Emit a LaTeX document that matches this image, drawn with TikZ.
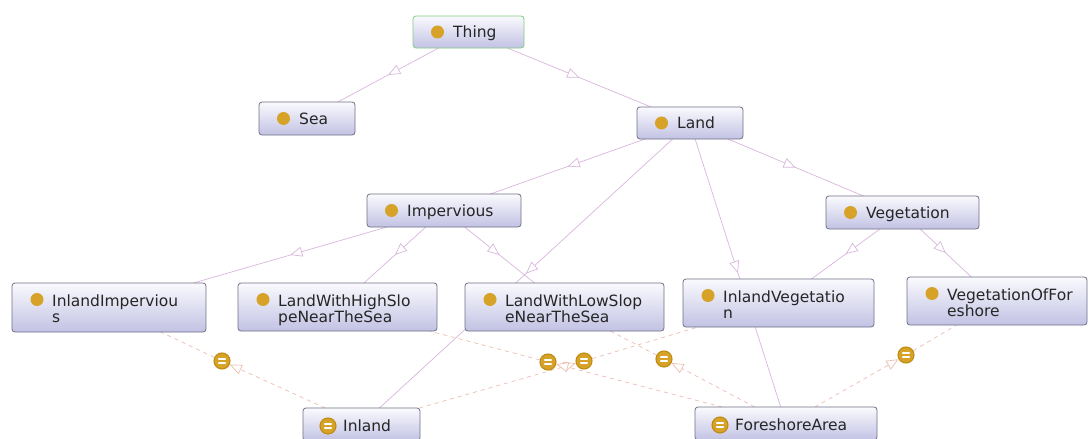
\documentclass[tikz,border=0pt]{standalone}
\usepackage{fontspec}
\newfontfamily\lblfont{DejaVu Sans}
\usetikzlibrary{arrows.meta,decorations.markings,backgrounds}

\definecolor{boxline}{RGB}{112,112,134}
\definecolor{boxtop}{RGB}{250,250,254}
\definecolor{boxbot}{RGB}{194,194,228}
\definecolor{thingline}{RGB}{128,204,128}
\definecolor{gold}{RGB}{214,163,40}
\definecolor{golddark}{RGB}{192,140,22}
\definecolor{subcol}{RGB}{218,182,222}
\definecolor{eqcol}{RGB}{236,190,176}

\tikzset{
  box/.style={draw=boxline, line width=0.8pt, rounded corners=3pt,
    top color=boxtop, bottom color=boxbot, inner sep=0pt, outer sep=0pt},
  thingbox/.style={draw=thingline},
  clsdot/.style={circle, fill=gold, inner sep=0pt, minimum size=13pt},
  eqdot/.style={circle, fill=gold, draw=golddark, line width=1.1pt,
    inner sep=0pt, minimum size=16pt,
    path picture={
      \draw[white, line width=1.7pt, line cap=round]
        ([shift={(-3.2pt,1.9pt)}]path picture bounding box.center) -- ++(6.4pt,0pt)
        ([shift={(-3.2pt,-1.9pt)}]path picture bounding box.center) -- ++(6.4pt,0pt);
    }},
  lbl/.style={font=\lblfont\fontsize{15.5}{16}\selectfont, anchor=base west,
    inner sep=0pt, text=black!85},
  opentip/.tip={Triangle[fill=white, length=12pt, width=10pt]},
  subedge/.style={color=subcol, line width=0.7pt, postaction={decorate},
    decoration={markings, mark=at position 0.5 with {\arrow{opentip}}}},
  eqedge/.style={color=eqcol, line width=0.7pt, dash pattern=on 4pt off 4pt, -opentip},
  eqlink/.style={color=eqcol, line width=0.7pt, dash pattern=on 4pt off 4pt},
}

% class box with one text line: name, x1, y1, x2, y2, text, extra style
\newcommand\oneclass[7]{%
  \node[box, #7, minimum width={(#4-#2)*1pt}, minimum height={(#5-#3)*1pt}]
    (#1) at ({(#2+#4)/2},{(#3+#5)/2}) {};
  \node[clsdot] (#1-dot) at ({#2+24.5},{(#3+#5)/2}) {};
  \node[lbl] (#1-txt) at ({#2+40},{(#3+#5)/2+5.5}) {#6};
}
% class box with two text lines: name, x1, y1, x2, y2, line one, line two
\newcommand\twoclass[7]{%
  \node[box, minimum width={(#4-#2)*1pt}, minimum height={(#5-#3)*1pt}]
    (#1) at ({(#2+#4)/2},{(#3+#5)/2}) {};
  \node[clsdot] (#1-dot) at ({#2+25},{#3+16.5}) {};
  \node[lbl] (#1-txt) at ({#2+40},{#3+23}) {#6};
  \node[lbl] (#1-txt2) at ({#2+40},{#3+39}) {#7};
}
% defined class box with the equivalence badge: name, x1, y1, x2, y2, text
\newcommand\defclass[6]{%
  \node[box, minimum width={(#4-#2)*1pt}, minimum height={(#5-#3)*1pt}]
    (#1) at ({(#2+#4)/2},{(#3+#5)/2}) {};
  \node[eqdot] (#1-dot) at ({#2+25},{#3+18}) {};
  \node[lbl] (#1-txt) at ({#2+40},{#3+23}) {#6};
}

\begin{document}
\begin{tikzpicture}[x=1pt, y=-1pt]
\useasboundingbox (0,0) rectangle (1088,439);
\clip (0,0) rectangle (1088,439);

% class hierarchy
\oneclass{thing}{413}{16}{524}{48}{Thing}{thingbox}
\oneclass{sea}{259}{102}{355}{135}{Sea}{}
\oneclass{land}{637}{107}{743}{139}{Land}{}
\oneclass{imp}{367}{194}{521}{227}{Impervious}{}
\oneclass{veg}{826}{196}{979}{229}{Vegetation}{}
\twoclass{inlimp}{12}{283}{206}{332}{InlandImperviou}{s}
\twoclass{high}{238}{283}{437}{331}{LandWithHighSlo}{peNearTheSea}
\twoclass{low}{465}{283}{664}{331}{LandWithLowSlop}{eNearTheSea}
\twoclass{inlveg}{683}{279}{874}{327}{InlandVegetatio}{n}
\twoclass{vegfor}{907}{277}{1087}{325}{VegetationOfFor}{eshore}
\defclass{inland}{303}{408}{420}{441}{Inland}
\defclass{fore}{695}{407}{877}{440}{ForeshoreArea}

% equivalence badges
\node[eqdot] (e1) at (222,361) {};
\node[eqdot] (e2) at (548,362) {};
\node[eqdot] (e3) at (584,361) {};
\node[eqdot] (e4) at (664,359) {};
\node[eqdot] (e5) at (906,355) {};

\begin{scope}[on background layer]
  \fill[white] (0,0) rectangle (1088,439);
  % subclass links
  \draw[subedge] (thing) -- (sea);
  \draw[subedge] (thing) -- (land);
  \draw[subedge] (land) -- (imp);
  \draw[subedge] (land) -- (veg);
  \draw[subedge] (land) -- (inland);
  \draw[subedge] (land) -- (fore);
  \draw[subedge] (imp) -- (inlimp);
  \draw[subedge] (imp) -- (high);
  \draw[subedge] (imp) -- (low);
  \draw[subedge] (veg) -- (inlveg);
  \draw[subedge] (veg) -- (vegfor);
  % equivalence links
  \draw[eqedge] (inland) -- (e1);
  \draw[eqlink] (e1) -- (inlimp);
  \draw[eqedge] (inland) -- (e3);
  \draw[eqlink] (e3) -- (inlveg);
  \draw[eqedge] (fore) -- (e2);
  \draw[eqlink] (e2) -- (high);
  \draw[eqedge] (fore) -- (e4);
  \draw[eqlink] (e4) -- (low);
  \draw[eqedge] (fore) -- (e5);
  \draw[eqlink] (e5) -- (vegfor);
\end{scope}
\end{tikzpicture}
\end{document}
